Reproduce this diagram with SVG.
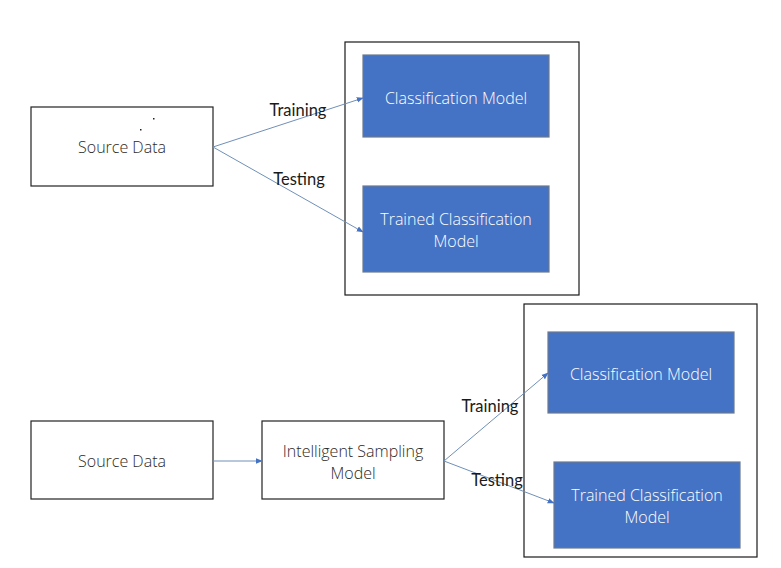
<svg xmlns="http://www.w3.org/2000/svg" width="781" height="568" viewBox="0 0 781 568">
<defs>
<marker id="ah" viewBox="0 0 10 10" refX="9" refY="5" markerWidth="7" markerHeight="7" orient="auto" markerUnits="userSpaceOnUse"><path d="M0,1 L10,5 L0,9 z" fill="#4472c4"/></marker>
<style>
.frame{fill:#fff;stroke:#1a1a1a;stroke-width:1.2}
.white{fill:#fff;stroke:#222;stroke-width:1.2}
.blue{fill:#4472c4;stroke:#6b7a8f;stroke-width:1.2}
.t{font-family:"Open Sans","Noto Sans",sans-serif;font-size:16px;text-anchor:middle;font-weight:300}
.tw{fill:#fff}
.td{fill:#2a2a2a}
.lbl{font-family:"Lato","Liberation Sans",sans-serif;font-size:16.5px;fill:#1a1a1a;text-anchor:middle}
.c{stroke:#6f8fb8;stroke-width:1;fill:none;marker-end:url(#ah)}
</style>
</defs>
<rect width="781" height="568" fill="#fff"/>
<g id="top-container"><rect class="frame" x="345" y="42" width="234" height="253"/></g>
<g id="bottom-container"><rect class="frame" x="524" y="304" width="233" height="253"/></g>
<g id="top-source"><rect class="white" x="31" y="107" width="182" height="79"/>
<rect x="153" y="118" width="1.5" height="1.5" fill="#222"/><rect x="140" y="129" width="1.5" height="1.5" fill="#222"/>
<text class="t td" x="122" y="153">Source Data</text></g>
<g id="top-classification"><rect class="blue" x="363" y="55" width="186" height="82"/><text class="t tw" x="456" y="104">Classification Model</text></g>
<g id="top-trained"><rect class="blue" x="363" y="186" width="186" height="86"/><text class="t tw" x="456" y="225">Trained Classification</text><text class="t tw" x="456" y="247">Model</text></g>
<g id="bottom-source"><rect class="white" x="31" y="421" width="182" height="78"/><text class="t td" x="122" y="467">Source Data</text></g>
<g id="bottom-sampling"><rect class="white" x="262" y="421" width="182" height="78"/><text class="t td" x="353" y="457">Intelligent Sampling</text><text class="t td" x="353" y="479">Model</text></g>
<g id="bottom-classification"><rect class="blue" x="548" y="332" width="186" height="81"/><text class="t tw" x="641" y="380">Classification Model</text></g>
<g id="bottom-trained"><rect class="blue" x="554" y="462" width="186" height="86"/><text class="t tw" x="647" y="501">Trained Classification</text><text class="t tw" x="647" y="523">Model</text></g>
<g id="connectors">
<line class="c" x1="213" y1="147" x2="363" y2="98"/>
<line class="c" x1="213" y1="147" x2="363" y2="232"/>
<line class="c" x1="213" y1="461" x2="262" y2="461"/>
<line class="c" x1="444" y1="461" x2="548" y2="373"/>
<line class="c" x1="444" y1="461" x2="554" y2="503"/>
<text class="lbl" x="298" y="116">Training</text>
<text class="lbl" x="299" y="185">Testing</text>
<text class="lbl" x="490" y="412">Training</text>
<text class="lbl" x="497" y="486">Testing</text>
</g>
</svg>
